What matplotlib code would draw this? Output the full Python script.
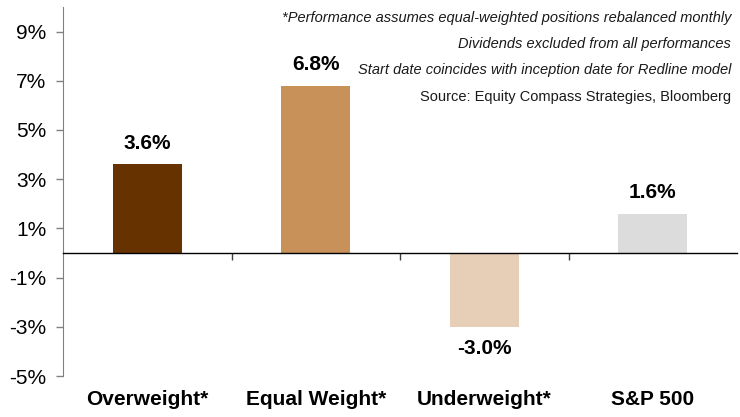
import matplotlib
matplotlib.use("Agg")
import matplotlib.pyplot as plt
import matplotlib.transforms as mtransforms

categories = ["Overweight*", "Equal Weight*", "Underweight*", "S&P 500"]
values = [3.6, 6.8, -3.0, 1.6]
colors = ["#663300", "#C9915A", "#E6CFB6", "#DCDCDC"]
ytick_vals = [-5, -3, -1, 1, 3, 5, 7, 9]
notes = [
    "*Performance assumes equal-weighted positions rebalanced monthly",
    "Dividends excluded from all performances",
    "Start date coincides with inception date for Redline model",
]
source = "Source: Equity Compass Strategies, Bloomberg"

plt.rcParams['font.family'] = ['Liberation Sans', 'DejaVu Sans']

W, H = 740, 417
fig = plt.figure(figsize=(W / 100, H / 100), dpi=100)
ax = fig.add_axes([63 / W, 1 - 376 / H, (737 - 63) / W, (376 - 7) / H])

x = list(range(len(categories)))
ax.bar(x, values, width=0.41, color=colors, zorder=2)

ax.set_xlim(-0.5, len(categories) - 0.5)
ax.set_ylim(-5, 10)
ax.set_yticks(ytick_vals)
ax.set_yticklabels([f"{v}%" for v in ytick_vals], fontsize=15)
ax.tick_params(axis='y', direction='out', length=5, width=1, color='#808080', pad=7)

for s in ['top', 'right']:
    ax.spines[s].set_visible(False)
ax.spines['left'].set_color('#808080')
ax.spines['bottom'].set_position(('data', 0))
ax.spines['bottom'].set_color('black')
ax.spines['bottom'].set_linewidth(1.0)
ax.set_xticks([i + 0.5 for i in x[:-1]])
ax.set_xticklabels([])
ax.tick_params(axis='x', direction='out', length=5, width=1, color='#404040')

trans = mtransforms.blended_transform_factory(ax.transData, ax.transAxes)
for i, c in enumerate(categories):
    ax.text(i, -(405 - 376) / 369, c, transform=trans, ha='center', va='baseline',
            fontsize=15, fontweight='bold')

for i, v in enumerate(values):
    if v >= 0:
        ax.annotate(f"{v:.1f}%", (i, v), xytext=(0, 11), textcoords='offset points',
                    ha='center', va='baseline', fontsize=15, fontweight='bold')
    else:
        ax.annotate(f"{v:.1f}%", (i, v), xytext=(0, -9), textcoords='offset points',
                    ha='center', va='top', fontsize=15, fontweight='bold')

ys = [18, 44, 70]
for t, y in zip(notes, ys):
    fig.text(731 / W, 1 - y / H, t, ha='right', va='center', fontsize=10.5,
             style='italic', color='#1a1a1a')
fig.text(731 / W, 1 - 97 / H, source, ha='right', va='center', fontsize=10.5,
         color='#1a1a1a')

fig.savefig("out.png", dpi=100)
